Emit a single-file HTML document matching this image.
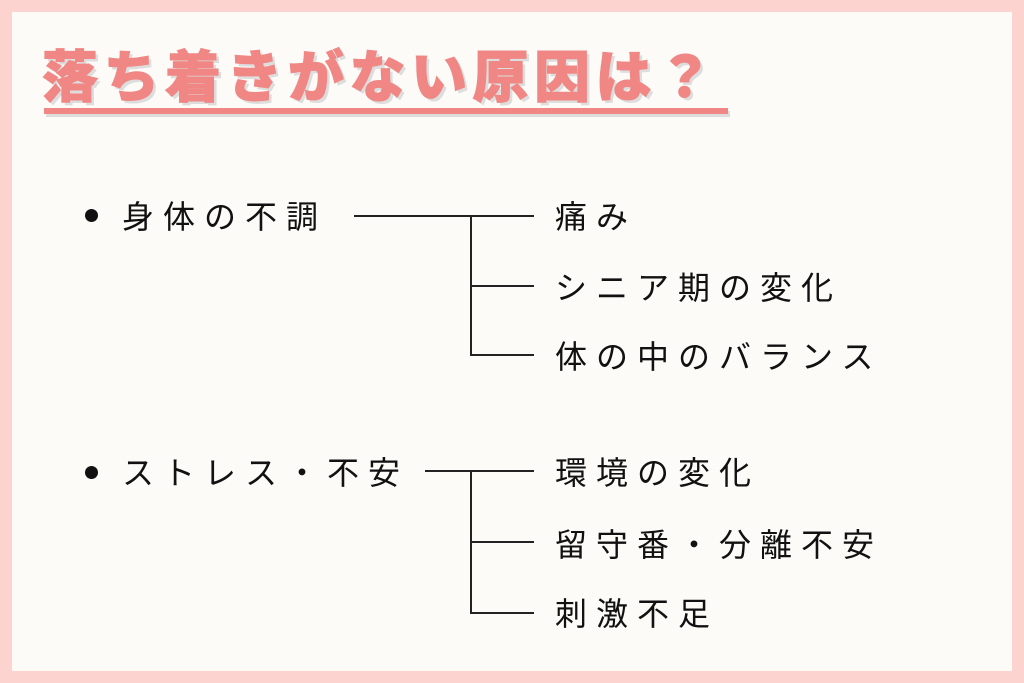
<!DOCTYPE html>
<html><head><meta charset="utf-8"><style>
html,body{margin:0;padding:0}
body{width:1024px;height:683px;background:#fdd3cf;position:relative;overflow:hidden;font-family:"Liberation Sans","Noto Sans CJK JP",sans-serif}
.inner{position:absolute;left:12px;top:12px;width:1000px;height:659px;background:#fcfbf7}
.t{position:absolute;font-size:32px;letter-spacing:9px;color:#111;line-height:1;white-space:nowrap;font-weight:400}
.title{position:absolute;left:42px;top:50px;font-size:56px;font-weight:900;color:#f08784;letter-spacing:5.5px;line-height:1;white-space:nowrap;text-shadow:3px 3px 0 #ddd;-webkit-text-stroke:1px #f08784}
.ul{position:absolute;left:44px;top:108px;width:684px;height:6px;background:#f08784;box-shadow:2px 3px 0 #ddd}
.h,.v{position:absolute;background:#222}
.h{height:1.5px}.v{width:1.5px}
.dot{position:absolute;width:13px;height:13px;border-radius:50%;background:#111}
</style></head><body>
<div class="inner"></div>
<div class="title">落ち着きがない原因は？</div>
<div class="ul"></div>

<div class="dot" style="left:85px;top:209px"></div>
<div class="t" style="left:122px;top:201px">身体の不調</div>
<div class="h" style="left:354px;top:215px;width:180px"></div>
<div class="v" style="left:470px;top:215px;height:140px"></div>
<div class="h" style="left:470px;top:285px;width:64px"></div>
<div class="h" style="left:470px;top:354px;width:64px"></div>
<div class="t" style="left:555px;top:201px">痛み</div>
<div class="t" style="left:555px;top:272px">シニア期の変化</div>
<div class="t" style="left:555px;top:341px">体の中のバランス</div>

<div class="dot" style="left:85px;top:466px"></div>
<div class="t" style="left:122px;top:457px">ストレス・不安</div>
<div class="h" style="left:425px;top:470px;width:109px"></div>
<div class="v" style="left:470px;top:470px;height:143px"></div>
<div class="h" style="left:470px;top:541px;width:64px"></div>
<div class="h" style="left:470px;top:612px;width:64px"></div>
<div class="t" style="left:555px;top:457px">環境の変化</div>
<div class="t" style="left:555px;top:529px">留守番・分離不安</div>
<div class="t" style="left:555px;top:598px">刺激不足</div>
</body></html>
